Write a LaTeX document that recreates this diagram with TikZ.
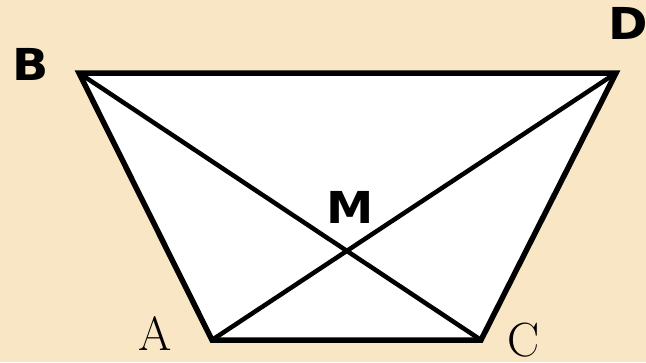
\documentclass[tikz,border=0pt]{standalone}
\usepackage{fontspec}
\newfontfamily\boldsans{DejaVu Sans Bold}
\begin{document}
\begin{tikzpicture}[x=1pt,y=-1pt,
  edge/.style={line width=5.5pt,line join=miter,line cap=round},
  diag/.style={line width=4.5pt},
  blabel/.style={font=\boldsans\fontsize{44}{44}\selectfont,inner sep=0pt,transform shape,xscale=1.08},
  slabel/.style={font=\fontsize{48}{48}\selectfont,inner sep=0pt}]
\definecolor{bg}{HTML}{F8E6C4}
\fill[bg] (0,0) rectangle (646,362);
\useasboundingbox (0,0) rectangle (646,362);
\coordinate (B) at (79,73);
\coordinate (D) at (616,73);
\coordinate (A) at (212,340);
\coordinate (C) at (481,340);
\fill[white] (B) -- (D) -- (C) -- (A) -- cycle;
\draw[diag] (B) -- (C);
\draw[diag] (A) -- (D);
\draw[edge] (B) -- (D) -- (C) -- (A) -- cycle;
\node[blabel] (lB) at (31,64) {B};
\node[blabel] (lD) at (628,23) {D};
\node[blabel] (lM) at (350,207) {M};
\node[slabel] (lA) at (155,334) {A};
\node[slabel] (lC) at (524,340) {C};
\end{tikzpicture}
\end{document}
